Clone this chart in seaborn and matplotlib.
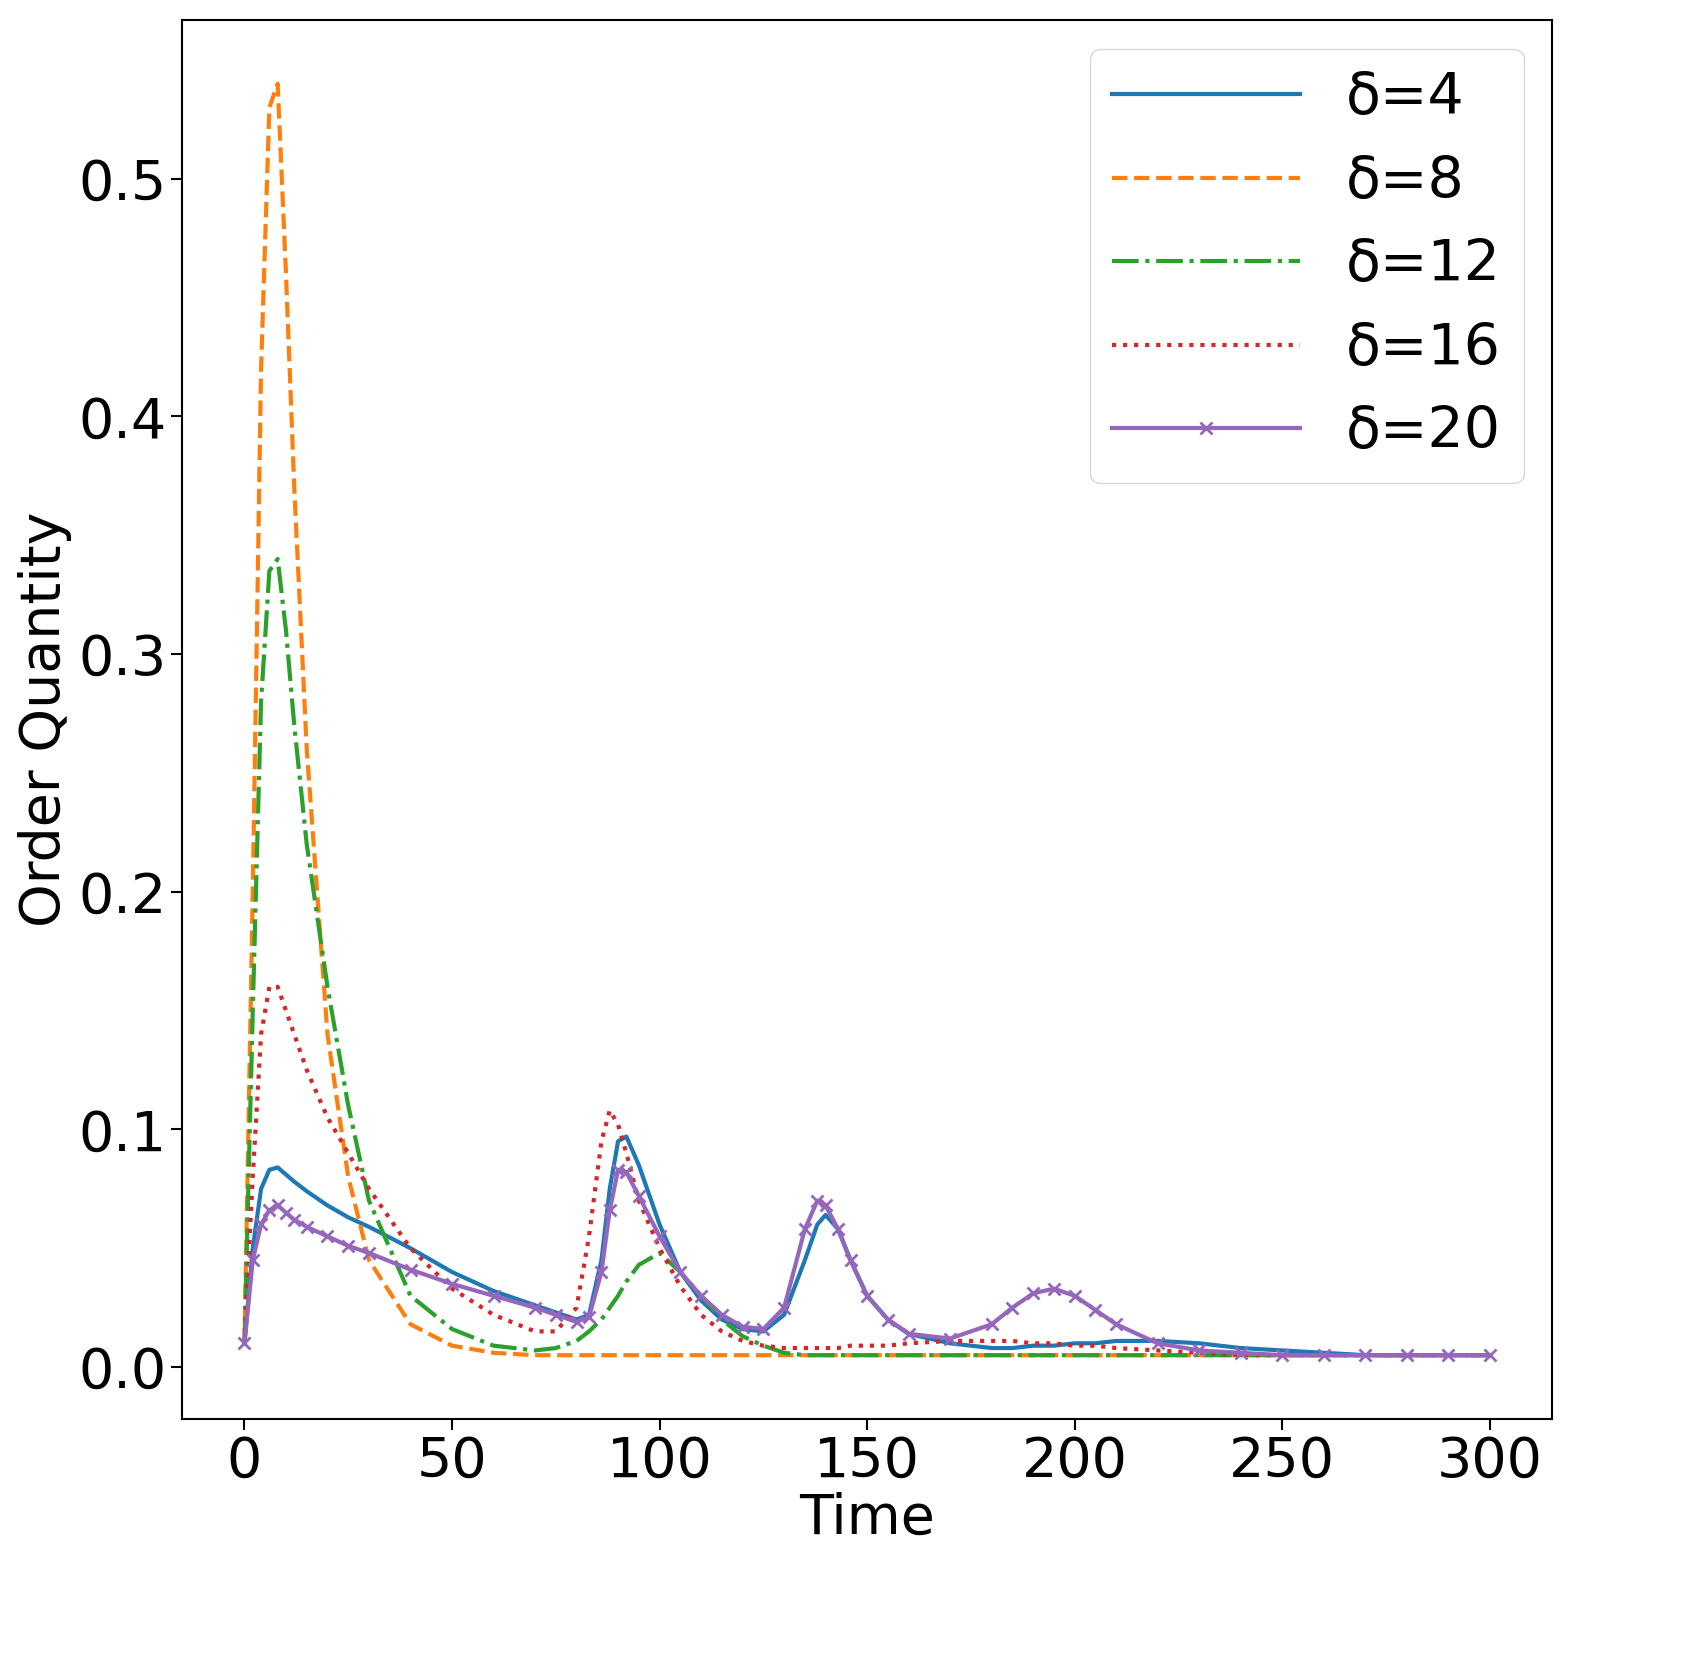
import numpy as np
import pandas as pd
import matplotlib
matplotlib.use('Agg')
import matplotlib.pyplot as plt
import seaborn as sns

time = [0, 2, 4, 6, 8, 10, 12, 15, 20, 25, 30, 40, 50, 60, 70, 75, 80, 83, 86, 88, 90, 92, 95,
        100, 105, 110, 115, 120, 125, 130, 135, 138, 140, 143, 146, 150, 155, 160, 170, 180,
        185, 190, 195, 200, 205, 210, 220, 230, 240, 250, 260, 270, 280, 290, 300]

d4 = [0.01, 0.05, 0.075, 0.083, 0.084, 0.081, 0.078, 0.074, 0.068, 0.063, 0.059, 0.050, 0.040,
      0.032, 0.026, 0.023, 0.020, 0.022, 0.045, 0.075, 0.095, 0.097, 0.085, 0.060, 0.040, 0.028,
      0.020, 0.016, 0.015, 0.022, 0.045, 0.060, 0.064, 0.058, 0.045, 0.030, 0.020, 0.014, 0.010,
      0.008, 0.008, 0.009, 0.009, 0.010, 0.010, 0.011, 0.011, 0.010, 0.008, 0.007, 0.006, 0.005,
      0.005, 0.005, 0.005]
d8 = [0.01, 0.2, 0.42, 0.53, 0.54, 0.46, 0.37, 0.26, 0.14, 0.08, 0.045, 0.018, 0.009, 0.006,
      0.005, 0.005, 0.005, 0.005, 0.005, 0.005, 0.005, 0.005, 0.005, 0.005, 0.005, 0.005, 0.005,
      0.005, 0.005, 0.005, 0.005, 0.005, 0.005, 0.005, 0.005, 0.005, 0.005, 0.005, 0.005, 0.005,
      0.005, 0.005, 0.005, 0.005, 0.005, 0.005, 0.005, 0.005, 0.005, 0.005, 0.005, 0.005, 0.005,
      0.005, 0.005]
d12 = [0.01, 0.15, 0.28, 0.335, 0.34, 0.31, 0.27, 0.22, 0.16, 0.11, 0.07, 0.03, 0.016, 0.009,
       0.007, 0.008, 0.011, 0.015, 0.020, 0.025, 0.030, 0.036, 0.043, 0.048, 0.040, 0.030, 0.020,
       0.013, 0.009, 0.006, 0.005, 0.005, 0.005, 0.005, 0.005, 0.005, 0.005, 0.005, 0.005, 0.005,
       0.005, 0.005, 0.005, 0.005, 0.005, 0.005, 0.005, 0.005, 0.005, 0.005, 0.005, 0.005, 0.005,
       0.005, 0.005]
d16 = [0.01, 0.08, 0.14, 0.16, 0.16, 0.15, 0.14, 0.125, 0.105, 0.09, 0.075, 0.05, 0.033, 0.022,
       0.015, 0.015, 0.025, 0.055, 0.095, 0.108, 0.102, 0.09, 0.07, 0.05, 0.034, 0.022, 0.015,
       0.011, 0.009, 0.008, 0.008, 0.008, 0.008, 0.008, 0.009, 0.009, 0.009, 0.010, 0.011, 0.011,
       0.011, 0.010, 0.010, 0.009, 0.009, 0.008, 0.007, 0.006, 0.005, 0.005, 0.005, 0.005, 0.005,
       0.005, 0.005]
d20 = [0.01, 0.045, 0.06, 0.066, 0.068, 0.065, 0.062, 0.059, 0.055, 0.051, 0.048, 0.041, 0.035,
       0.030, 0.025, 0.022, 0.019, 0.021, 0.04, 0.066, 0.083, 0.082, 0.072, 0.055, 0.040, 0.030,
       0.022, 0.017, 0.016, 0.025, 0.058, 0.070, 0.068, 0.058, 0.045, 0.030, 0.020, 0.014, 0.012,
       0.018, 0.025, 0.031, 0.033, 0.030, 0.024, 0.018, 0.010, 0.007, 0.006, 0.005, 0.005, 0.005,
       0.005, 0.005, 0.005]

labels = ['δ=4', 'δ=8', 'δ=12', 'δ=16', 'δ=20']
series = [d4, d8, d12, d16, d20]
colors = sns.color_palette('tab10', 5)
styles = [dict(linestyle='-'), dict(linestyle='--'), dict(linestyle='-.'),
          dict(linestyle=':'),
          dict(linestyle='-', marker='x', markersize=8, markeredgewidth=2,
               markeredgecolor=colors[4])]

fig, ax = plt.subplots(figsize=(16.87, 16.79), dpi=100)
for lab, vals, st, c in zip(labels, series, styles, colors):
    sns.lineplot(x=time, y=vals, ax=ax, label=lab, color=c, linewidth=3, **st)

ax.set_xlabel('Time', fontsize=40, labelpad=2)
ax.set_ylabel('Order Quantity', fontsize=40)
ax.tick_params(labelsize=40, width=1.5, length=8)
ax.set_xticks([0, 50, 100, 150, 200, 250, 300])
ax.set_yticks([0.0, 0.1, 0.2, 0.3, 0.4, 0.5])
for s in ax.spines.values():
    s.set_linewidth(1.5)
ax.legend(fontsize=41, loc='upper right', handlelength=3.3)
plt.subplots_adjust(left=0.108, right=0.92, top=0.988, bottom=0.155)
fig.savefig('out.png')
